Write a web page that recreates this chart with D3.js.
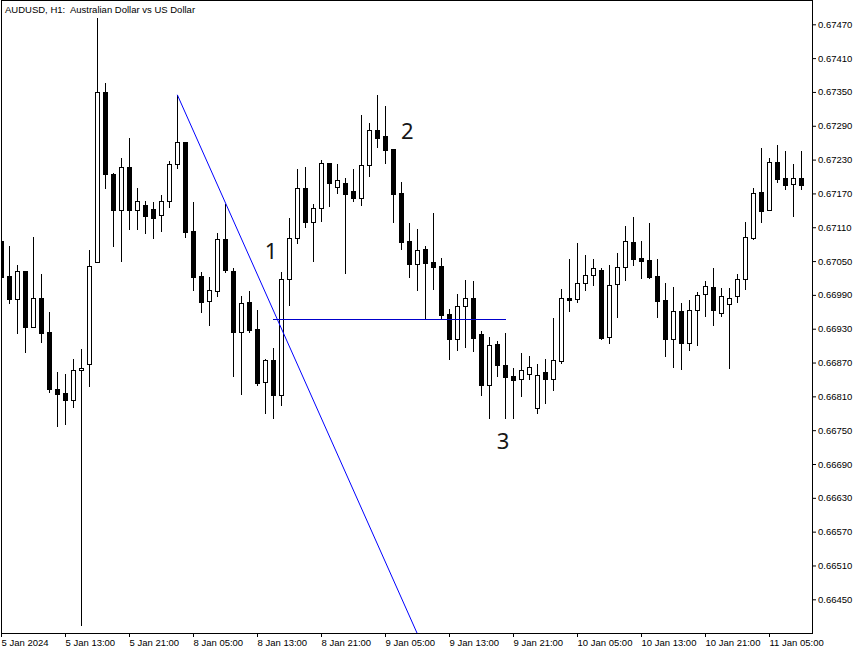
<!DOCTYPE html>
<html><head><meta charset="utf-8">
<script src="https://cdn.jsdelivr.net/npm/d3@7"></script>
<style>html,body{margin:0;padding:0;background:#fff;overflow:hidden}svg{display:block}</style>
</head><body>
<svg id="chart" width="855" height="650"></svg>
<script>
// ---------- data ----------
const title = "AUDUSD, H1:  Australian Dollar vs US Dollar";

const openP = [0.67086,0.67024,0.66983,0.67032,0.66933,0.66984,0.66924,0.66823,0.66816,0.66803,
0.66857,0.66867,0.67048,0.67350,0.67204,0.67141,0.67217,0.67141,0.67149,0.67142,
0.67132,0.67157,0.67222,0.67261,0.67103,0.67024,0.66979,0.66997,0.67089,0.67032,
0.66924,0.66977,0.66930,0.66835,0.66874,0.66812,0.67018,0.67091,0.67180,0.67119,
0.67144,0.67224,0.67181,0.67189,0.67174,0.67162,0.67220,0.67283,0.67272,0.67249,
0.67171,0.67086,0.67045,0.67071,0.67048,0.67041,0.66956,0.66912,0.66970,0.66984,
0.66921,0.66830,0.66903,0.66866,0.66846,0.66841,0.66850,0.66789,0.66853,0.66841,
0.66873,0.66984,0.66983,0.67011,0.67025,0.67034,0.66915,0.67009,0.67039,0.67084,
0.67055,0.67052,0.67024,0.66981,0.66912,0.66961,0.66905,0.66963,0.66992,0.67004,
0.66958,0.66974,0.66988,0.67018,0.67091,0.67173,0.67141,0.67226,0.67197,0.67187,
0.67197];

const highP = [0.67089,0.67077,0.67043,0.67032,0.67093,0.67027,0.66960,0.66853,0.66850,0.66876,
0.66894,0.67070,0.67481,0.67366,0.67206,0.67233,0.67268,0.67180,0.67157,0.67155,
0.67167,0.67228,0.67345,0.67261,0.67155,0.67031,0.67022,0.67100,0.67151,0.67038,
0.66988,0.66997,0.66963,0.66876,0.66896,0.67031,0.67126,0.67213,0.67217,0.67151,
0.67229,0.67224,0.67222,0.67197,0.67213,0.67309,0.67295,0.67345,0.67325,0.67249,
0.67190,0.67118,0.67107,0.67077,0.67135,0.67055,0.66965,0.66992,0.67016,0.67015,
0.66926,0.66915,0.66908,0.66922,0.66860,0.66887,0.66882,0.66867,0.66876,0.66949,
0.67000,0.67054,0.67082,0.67061,0.67054,0.67038,0.67043,0.67064,0.67112,0.67128,
0.67086,0.67118,0.67054,0.67011,0.67004,0.66976,0.66981,0.66995,0.67015,0.67038,
0.67002,0.67002,0.67027,0.67119,0.67180,0.67251,0.67233,0.67256,0.67245,0.67222,
0.67245];

const lowP = [0.67018,0.66976,0.66922,0.66889,0.66933,0.66906,0.66818,0.66757,0.66761,0.66791,
0.66404,0.66828,0.67048,0.67180,0.67077,0.67050,0.67107,0.67107,0.67100,0.67091,
0.67103,0.67146,0.67215,0.67093,0.66999,0.66960,0.66937,0.66988,0.67031,0.66846,
0.66814,0.66924,0.66830,0.66780,0.66772,0.66795,0.66972,0.67082,0.67110,0.67050,
0.67121,0.67148,0.67171,0.67029,0.67157,0.67149,0.67201,0.67252,0.67224,0.67119,
0.67071,0.67022,0.66999,0.66949,0.67000,0.66949,0.66876,0.66892,0.66898,0.66890,
0.66812,0.66772,0.66846,0.66772,0.66772,0.66811,0.66841,0.66780,0.66798,0.66821,
0.66869,0.66961,0.66977,0.66999,0.67008,0.66912,0.66905,0.66951,0.67016,0.67043,
0.67020,0.67020,0.66951,0.66882,0.66862,0.66858,0.66892,0.66901,0.66953,0.66937,
0.66953,0.66860,0.66977,0.67000,0.67089,0.67119,0.67141,0.67190,0.67178,0.67130,
0.67178];

const closeP = [0.67022,0.66983,0.67032,0.66933,0.66984,0.66922,0.66823,0.66814,0.66803,0.66857,
0.66860,0.67041,0.67350,0.67204,0.67141,0.67217,0.67141,0.67157,0.67130,0.67126,
0.67157,0.67222,0.67261,0.67102,0.67022,0.66977,0.66999,0.67089,0.67034,0.66924,
0.66976,0.66928,0.66834,0.66874,0.66812,0.67018,0.67091,0.67180,0.67119,0.67144,
0.67224,0.67189,0.67194,0.67169,0.67162,0.67220,0.67283,0.67268,0.67247,0.67169,
0.67084,0.67045,0.67070,0.67047,0.67039,0.66954,0.66912,0.66970,0.66984,0.66914,
0.66830,0.66901,0.66866,0.66844,0.66839,0.66857,0.66862,0.66848,0.66841,0.66874,
0.66984,0.66981,0.67011,0.67025,0.67038,0.66914,0.67008,0.67039,0.67086,0.67054,
0.67050,0.67022,0.66979,0.66912,0.66961,0.66905,0.66963,0.66990,0.67006,0.66963,
0.66988,0.66984,0.67018,0.67093,0.67171,0.67139,0.67226,0.67196,0.67185,0.67197,
0.67185];

const xTickIndex = [0,8,16,24,32,40,48,56,64,72,80,88,96];
const xTickLabels = ["5 Jan 2024","5 Jan 13:00","5 Jan 21:00","8 Jan 05:00","8 Jan 13:00",
  "8 Jan 21:00","9 Jan 05:00","9 Jan 13:00","9 Jan 21:00","10 Jan 05:00","10 Jan 13:00",
  "10 Jan 21:00","11 Jan 05:00"];
const yTickValues = [0.67470,0.67410,0.67350,0.67290,0.67230,0.67170,0.67110,0.67050,0.66990,
  0.66930,0.66870,0.66810,0.66750,0.66690,0.66630,0.66570,0.66510,0.66450];

// drawn objects (bar index, price)
const trendIdx = [22, 52];
const trendPrice = [0.67345, 0.66389];
const hlineIdx = [34, 63];
const hlinePrice = 0.66947;
const waveText = ["1", "2", "3"];
const waveIdx = [33.75, 50.8, 62.75];
const wavePrice = [0.67054, 0.67266, 0.66717];

// ---------- drawing ----------
const svg = d3.select("#chart");
const W = 855, H = 650;
const plotL = 1, plotT = 1, plotR = 812, plotB = 633;
const n = openP.length;

const x = d3.scaleLinear().domain([0, n - 1]).range([1, 1 + 8 * (n - 1)]);
const y = d3.scaleLinear().domain([0.66450, 0.67470]).range([599.3, 24.3]);

svg.append("rect").attr("width", W).attr("height", H).attr("fill", "#fff");

const defs = svg.append("defs");
defs.append("clipPath").attr("id", "clip").append("rect")
  .attr("x", plotL + 1).attr("y", plotT + 0).attr("width", plotR - plotL - 1).attr("height", plotB - plotT);

const plot = svg.append("g").attr("clip-path", "url(#clip)");

const bars = d3.range(n).map(i => ({i, o: openP[i], h: highP[i], l: lowP[i], c: closeP[i]}));

// wicks
plot.append("g").selectAll("line").data(bars).join("line")
  .attr("x1", d => Math.round(x(d.i)) + 0.5).attr("x2", d => Math.round(x(d.i)) + 0.5)
  .attr("y1", d => Math.round(y(d.h))).attr("y2", d => Math.round(y(d.l)) + 1)
  .attr("stroke", "#000").attr("stroke-width", 1).attr("shape-rendering", "crispEdges");

// bodies
plot.append("g").selectAll("rect").data(bars).join("rect")
  .each(function(d) {
    const cx = Math.round(x(d.i));
    const top = Math.round(y(Math.max(d.o, d.c)));
    const bot = Math.round(y(Math.min(d.o, d.c)));
    const r = d3.select(this);
    if (d.c >= d.o) {
      r.attr("x", cx - 1.5).attr("y", top + 0.5).attr("width", 4).attr("height", Math.max(bot - top, 1))
       .attr("fill", "#fff").attr("stroke", "#000").attr("stroke-width", 1);
    } else {
      r.attr("x", cx - 2).attr("y", top).attr("width", 5).attr("height", Math.max(bot - top + 1, 2))
       .attr("fill", "#000");
    }
  })
  .attr("shape-rendering", "crispEdges");

// trend line
plot.append("line")
  .attr("x1", x(trendIdx[0]) + 0.3).attr("y1", y(trendPrice[0]))
  .attr("x2", x(trendIdx[1]) + 0.3).attr("y2", y(trendPrice[1]))
  .attr("stroke", "#0000ff").attr("stroke-width", 1);

// horizontal line
plot.append("line")
  .attr("x1", x(hlineIdx[0])).attr("x2", x(hlineIdx[1]) + 1)
  .attr("y1", Math.round(y(hlinePrice)) + 0.5).attr("y2", Math.round(y(hlinePrice)) + 0.5)
  .attr("stroke", "#0000cc").attr("stroke-width", 1).attr("shape-rendering", "crispEdges");

// wave labels
svg.append("g").selectAll("text").data(waveText).join("text")
  .attr("x", (d, k) => x(waveIdx[k])).attr("y", (d, k) => y(wavePrice[k]))
  .attr("text-anchor", "middle")
  .attr("font-family", "'Noto Sans', 'Open Sans', sans-serif").attr("font-size", 22)
  .attr("fill", "#161616").text(d => d);

// frame
svg.append("rect").attr("x", plotL + 0.5).attr("y", plotT - 0.5)
  .attr("width", plotR - plotL).attr("height", plotB - plotT + 1)
  .attr("fill", "none").attr("stroke", "#000").attr("stroke-width", 1).attr("shape-rendering", "crispEdges");

const axisFont = "'Liberation Sans', Arial, sans-serif";

// y axis (right)
const yAxis = d3.axisRight(y).tickValues(yTickValues).tickSize(4).tickPadding(2)
  .tickFormat(d3.format(".5f"));
const gy = svg.append("g").attr("transform", `translate(${plotR},0)`).call(yAxis);
gy.select(".domain").remove();
gy.selectAll("line").attr("stroke", "#000");
gy.selectAll("text").attr("font-family", axisFont).attr("font-size", 9.5).attr("fill", "#000");

// x axis (bottom)
const xAxis = d3.axisBottom(x).tickValues(xTickIndex).tickSize(4).tickPadding(2)
  .tickFormat((d, k) => xTickLabels[k]);
const gx = svg.append("g").attr("transform", `translate(0,${plotB})`).call(xAxis);
gx.select(".domain").remove();
gx.selectAll("line").attr("stroke", "#000");
gx.selectAll("text").attr("font-family", axisFont).attr("font-size", 9.5).attr("fill", "#000")
  .attr("text-anchor", "start").attr("dx", 0);

// title
svg.append("text").attr("x", 5).attr("y", 13)
  .attr("font-family", axisFont).attr("font-size", 9.5).attr("fill", "#000")
  .style("white-space", "pre").attr("xml:space", "preserve").text(title);
</script>
</body></html>
